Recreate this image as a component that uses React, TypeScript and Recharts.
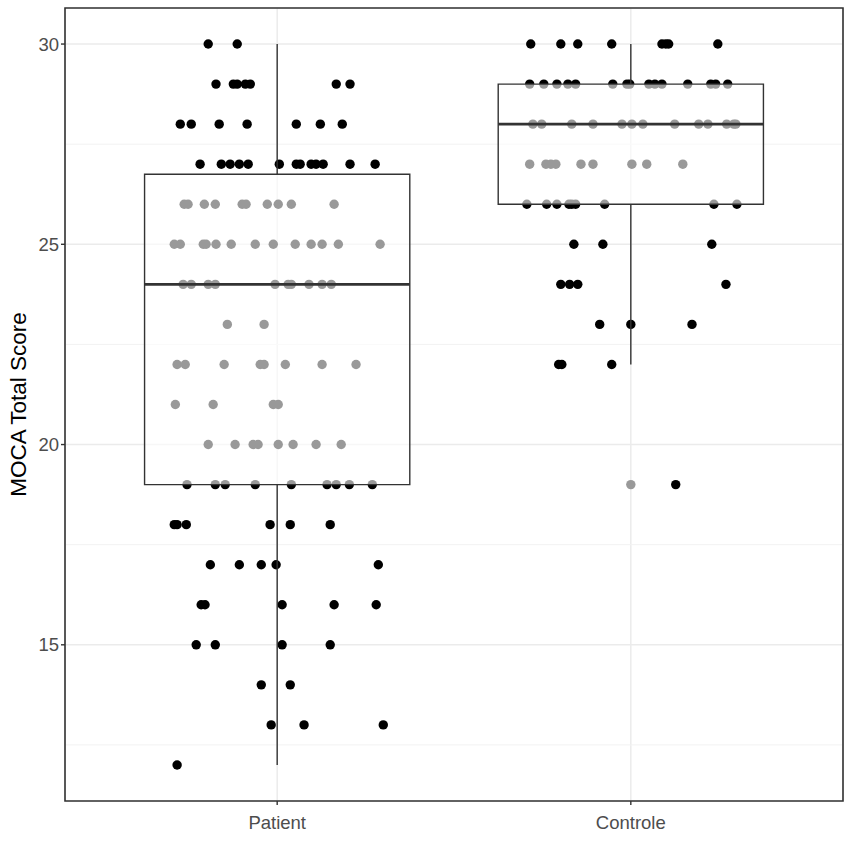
import React from "react"
import {
  CartesianGrid,
  ReferenceArea,
  ReferenceLine,
  Scatter,
  ScatterChart,
  XAxis,
  YAxis,
} from "recharts"

// groups on the discrete x axis (1 = Patient, 2 = Controle)
const groups = ["Patient", "Controle"]
const yTicks = [15, 20, 25, 30]
const minorY = [12.5, 17.5, 22.5, 27.5]

// jittered observations: score + horizontal jitter (in category units)
const patientScores = [
  30, 30,
  29, 29, 29, 29, 29, 29, 29,
  28, 28, 28, 28, 28, 28, 28,
  27, 27, 27, 27, 27, 27, 27, 27, 27, 27, 27, 27, 27,
  26, 26, 26, 26, 26, 26, 26, 26, 26, 26,
  25, 25, 25, 25, 25, 25, 25, 25, 25, 25, 25, 25, 25,
  24, 24, 24, 24, 24, 24, 24, 24, 24, 24,
  23, 23,
  22, 22, 22, 22, 22, 22, 22, 22,
  21, 21, 21, 21,
  20, 20, 20, 20, 20, 20, 20, 20,
  19, 19, 19, 19, 19, 19, 19, 19, 19,
  18, 18, 18, 18, 18, 18,
  17, 17, 17, 17, 17,
  16, 16, 16, 16, 16,
  15, 15, 15, 15,
  14, 14,
  13, 13, 13,
  12,
]
const patientJitter = [
  -0.195, -0.113,
  -0.173, -0.124, -0.113, -0.09, -0.076, 0.167, 0.206,
  -0.274, -0.243, -0.164, -0.085, 0.054, 0.122, 0.184,
  -0.218, -0.158, -0.133, -0.107, -0.082, 0.006, 0.054, 0.065, 0.096, 0.11, 0.13, 0.206, 0.277,
  -0.263, -0.252, -0.206, -0.175, -0.099, -0.088, -0.028, 0.003, 0.04, 0.161,
  -0.291, -0.274, -0.209, -0.201, -0.173, -0.13, -0.062, -0.011, 0.051, 0.096, 0.127, 0.173, 0.291,
  -0.266, -0.243, -0.195, -0.175, -0.006, 0.031, 0.04, 0.09, 0.127, 0.153,
  -0.141, -0.037,
  -0.283, -0.26, -0.15, -0.048, -0.037, 0.023, 0.127, 0.223,
  -0.288, -0.181, -0.011, 0.003,
  -0.195, -0.119, -0.068, -0.054, 0.003, 0.045, 0.11, 0.181,
  -0.255, -0.175, -0.147, -0.062, 0.04, 0.141, 0.167, 0.204, 0.269,
  -0.291, -0.283, -0.257, -0.02, 0.037, 0.15,
  -0.189, -0.107, -0.045, -0.003, 0.286,
  -0.215, -0.204, 0.014, 0.161, 0.28,
  -0.229, -0.175, 0.014, 0.15,
  -0.045, 0.037,
  -0.017, 0.076, 0.3,
  -0.283,
]

const controleScores = [
  30, 30, 30, 30, 30, 30, 30, 30,
  29, 29, 29, 29, 29, 29, 29, 29, 29, 29, 29, 29, 29, 29, 29,
  28, 28, 28, 28, 28, 28, 28, 28, 28, 28, 28, 28, 28,
  27, 27, 27, 27, 27, 27, 27, 27, 27,
  26, 26, 26, 26, 26, 26, 26, 26, 26,
  25, 25, 25,
  24, 24, 24, 24,
  23, 23, 23,
  22, 22, 22,
  19,
]
const controleJitter = [
  -0.283, -0.198, -0.15, -0.054, 0.088, 0.099, 0.107, 0.246,
  -0.286, -0.246, -0.209, -0.178, -0.156, -0.051, -0.011, -0.003, 0.051, 0.068, 0.088, 0.161, 0.226, 0.24, 0.274,
  -0.277, -0.252, -0.167, -0.107, -0.025, 0.003, 0.034, 0.124, 0.192, 0.218, 0.271, 0.291, 0.297,
  -0.286, -0.24, -0.226, -0.212, -0.141, -0.107, 0.003, 0.045, 0.147,
  -0.294, -0.238, -0.209, -0.175, -0.167, -0.156, -0.074, 0.235, 0.3,
  -0.161, -0.079, 0.229,
  -0.198, -0.173, -0.15, 0.269,
  -0.088, 0, 0.173,
  -0.204, -0.195, -0.054,
  0.127,
]

// box statistics per group: [lower whisker, Q1, median, Q3, upper whisker]
const patientBox = [12, 19, 24, 26.75, 30]
const controleBox = [22, 26, 28, 29, 30]
const controleOutliers = [19]

const patientPoints = patientScores.map((s, i) => ({ x: 1 + patientJitter[i], y: s }))
const controlePoints = controleScores.map((s, i) => ({ x: 2 + controleJitter[i], y: s }))
const outlierPoints = controleOutliers.map((s) => ({ x: 2, y: s }))

const FONT = "'Liberation Sans', Arial, sans-serif"
const DARK = "#333333"
const HALF = 0.375
const TOP = 2000

const Dot = (props: any) => {
  const { cx, cy, fill } = props
  if (cx == null || cy == null) return null
  return <circle cx={cx} cy={cy} r={4.7} fill={fill} />
}

function boxParts(center: number, stats: number[], key: string) {
  const [lo, q1, med, q3, hi] = stats
  return [
    <ReferenceLine
      key={key + "w1"}
      segment={[{ x: center, y: lo }, { x: center, y: q1 }]}
      stroke={DARK}
      strokeWidth={1.4}
      zIndex={TOP}
    />,
    <ReferenceLine
      key={key + "w2"}
      segment={[{ x: center, y: q3 }, { x: center, y: hi }]}
      stroke={DARK}
      strokeWidth={1.4}
      zIndex={TOP}
    />,
    <ReferenceArea
      key={key + "box"}
      x1={center - HALF}
      x2={center + HALF}
      y1={q1}
      y2={q3}
      fill="#ffffff"
      fillOpacity={0.6}
      stroke={DARK}
      strokeWidth={1.4}
      zIndex={TOP}
    />,
    <ReferenceLine
      key={key + "med"}
      segment={[{ x: center - HALF, y: med }, { x: center + HALF, y: med }]}
      stroke={DARK}
      strokeWidth={2.8}
      zIndex={TOP + 1}
    />,
  ]
}

export default function App() {
  return (
    <div style={{ position: "absolute", left: 0, top: 0, fontFamily: FONT }}>
      <ScatterChart
        width={851}
        height={845}
        margin={{ top: 8, right: 8, left: 0, bottom: 0 }}
      >
        <CartesianGrid stroke="#ebebeb" strokeWidth={1.5} />
        {minorY.map((v) => (
          <ReferenceLine key={"m" + v} y={v} stroke="#f2f2f2" strokeWidth={1} />
        ))}
        <XAxis
          type="number"
          dataKey="x"
          domain={[0.4, 2.6]}
          ticks={[1, 2]}
          tickFormatter={(v) => groups[v - 1]}
          axisLine={false}
          tickLine={{ stroke: DARK, strokeWidth: 1.4 }}
          tickSize={4}
          tickMargin={11}
          height={44}
          tick={{ fill: "#4d4d4d", fontSize: 18.5, fontFamily: FONT }}
          allowDataOverflow
        />
        <YAxis
          type="number"
          dataKey="y"
          domain={[11.1, 30.9]}
          ticks={yTicks}
          axisLine={false}
          tickLine={{ stroke: DARK, strokeWidth: 1.4 }}
          tickSize={4}
          width={65}
          tick={{ fill: "#4d4d4d", fontSize: 18.5, fontFamily: FONT }}
          allowDataOverflow
          label={{
            value: "MOCA Total Score",
            angle: -90,
            position: "insideLeft",
            offset: 18,
            style: { textAnchor: "middle", fontSize: 22.5, fill: "#000", fontFamily: FONT },
          }}
        />
        <Scatter data={patientPoints} fill="#000000" shape={Dot} isAnimationActive={false} />
        <Scatter data={controlePoints} fill="#000000" shape={Dot} isAnimationActive={false} />
        {boxParts(1, patientBox, "p")}
        {boxParts(2, controleBox, "c")}
        <Scatter data={outlierPoints} fill="#999999" shape={Dot} isAnimationActive={false} />
        <ReferenceArea
          x1={0.4}
          x2={2.6}
          y1={11.1}
          y2={30.9}
          fill="none"
          stroke={DARK}
          strokeWidth={1.6}
          zIndex={TOP + 2}
        />
      </ScatterChart>
    </div>
  )
}
